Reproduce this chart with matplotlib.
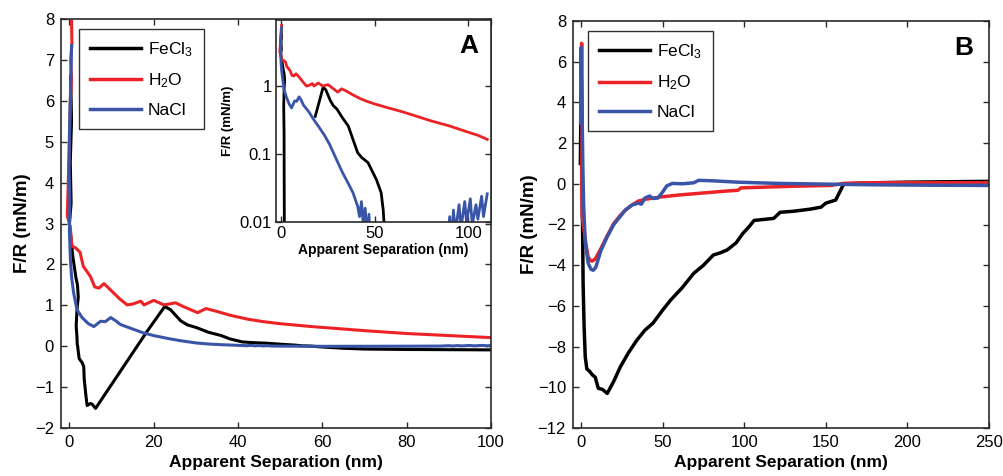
import matplotlib
matplotlib.use("Agg")
import matplotlib.pyplot as plt
import numpy as np

plt.rcParams['font.family'] = ['Liberation Sans', 'DejaVu Sans']
plt.rcParams['mathtext.fontset'] = 'custom'
plt.rcParams['mathtext.rm'] = 'Liberation Sans'
plt.rcParams['mathtext.it'] = 'Liberation Sans'
plt.rcParams['mathtext.bf'] = 'Liberation Sans:bold'
plt.rcParams['mathtext.default'] = 'regular'

# ---------------- Panel A data (approach) ----------------
h2o_a_x = [0.5, 0.6, 0.3, 0.5, 0.2, 0.0, -0.5, 0.2, 0.6, 1.5, 2.5, 3.3, 4.0, 5.0, 6.0, 7.0, 8.2, 9.0,
           10.0, 12.0, 13.7, 15.0, 16.9, 17.7, 20.0, 22.4, 25.2, 27.0, 30.4, 32.4, 35.0, 38.0, 42.3,
           46.0, 50.0, 57.4, 65.0, 70.0, 80.0, 90.0, 100.0, 105.0, 110.0]
h2o_a_y = [7.95, 7.4, 7.0, 6.5, 6.0, 5.0, 3.2, 2.9, 2.45, 2.4, 2.3, 1.95, 1.85, 1.7, 1.45, 1.42, 1.53, 1.45,
           1.35, 1.15, 1.01, 1.03, 1.1, 1.01, 1.12, 1.01, 1.06, 0.97, 0.82, 0.92, 0.85, 0.76, 0.66,
           0.6, 0.55, 0.48, 0.42, 0.38, 0.31, 0.26, 0.21, 0.19, 0.165]

nacl_a_x = [0.5, 0.4, 0.2, 0.0, -0.1, 0.1, 0.0, 0.24, 0.5, 1.0, 1.8, 3.0, 4.5, 5.8, 7.4, 8.5, 9.8, 11.0,
            12.1, 15.0, 17.7, 20.0, 23.3, 26.0, 30.0, 33.0, 36.0, 38.5, 41.0, 42.0, 43.0, 44.0, 45.0,
            46.0, 47.0, 48.0, 50.0, 55.0, 60.0, 70.0, 80.0, 88.0, 90.0, 91.0, 92.0, 93.0, 95.0, 96.0,
            98.0, 99.0, 101.0, 102.0, 104.0, 105.0, 107.0, 108.0, 110.0]
nacl_a_y = [7.35, 6.8, 6.0, 5.2, 4.4, 3.6, 2.8, 2.1, 1.7, 1.3, 0.89, 0.7, 0.55, 0.48, 0.61, 0.6, 0.7, 0.62,
            0.53, 0.42, 0.32, 0.26, 0.19, 0.14, 0.08, 0.053, 0.037, 0.027, 0.017, 0.012, 0.02, 0.009, 0.016,
            0.006, 0.013, 0.004, 0.002, 0.0, -0.003, -0.002, 0.0, 0.003, 0.012, 0.005, 0.015, 0.007, 0.018, 0.008,
            0.02, 0.01, 0.022, 0.009, 0.018, 0.011, 0.024, 0.012, 0.026]

fecl3_a_x = [0.3, 0.5, 0.2, 0.4, 0.0, 0.8, 1.5, 1.9, 2.1, 1.8, 1.6, 1.8, 1.85, 1.9, 1.95, 2.0, 2.3, 3.0,
             3.4, 3.5, 3.9, 4.2, 5.0, 5.4, 6.2, 18.4, 22.6, 24.0, 26.4, 28.0, 30.0, 33.0, 36.0, 38.0, 41.0,
             43.0, 46.5, 51.0, 53.5, 54.6, 55.0, 57.0, 60.0, 65.0, 70.0, 80.0, 90.0, 100.0, 110.0]
fecl3_a_y = [6.6, 5.5, 4.5, 3.5, 3.0, 2.2, 1.7, 1.5, 1.2, 0.9, 0.5, 0.2, 0.05, 0.02, 0.008, -0.05, -0.3, -0.4,
             -0.5, -0.8, -1.2, -1.45, -1.4, -1.42, -1.52, 0.36, 0.97, 0.89, 0.62, 0.52, 0.46, 0.34, 0.26, 0.18,
             0.105, 0.09, 0.075, 0.042, 0.027, 0.015, 0.01, 0.004, -0.02, -0.05, -0.07, -0.08, -0.085, -0.09, -0.09]

# ---------------- Panel B data (retraction) ----------------
h2o_b_x = [-0.3, 0.3, 0.6, 0.4, 0.6, 2.0, 3.0, 4.3, 5.5, 6.6, 8.6, 12.0, 16.0, 20.0, 24.0, 27.0, 31.0,
           35.0, 40.0, 48.5, 60.0, 75.0, 90.0, 96.0, 98.0, 110.0, 130.0, 153.0, 161.0, 177.0, 200.0, 225.0, 250.0]
h2o_b_y = [3.0, 6.9, 4.0, 0.0, -1.6, -2.4, -3.0, -3.6, -3.75, -3.8, -3.7, -3.2, -2.55, -1.95, -1.55, -1.3, -1.05,
           -0.85, -0.75, -0.65, -0.55, -0.45, -0.35, -0.32, -0.2, -0.17, -0.12, -0.08, 0.02, 0.05, 0.05, 0.05, 0.05]

nacl_b_x = [-0.3, 0.0, 0.5, 1.0, 1.5, 2.5, 4.3, 6.0, 7.4, 9.0, 12.0, 16.0, 20.0, 24.0, 27.0, 31.0, 35.0,
            37.0, 39.0, 42.0, 44.0, 47.0, 50.0, 52.5, 56.0, 62.0, 69.0, 72.0, 80.0, 96.0, 120.0, 153.0,
            180.0, 215.0, 250.0]
nacl_b_y = [3.0, 6.7, 4.0, 1.0, -1.0, -2.9, -3.9, -4.2, -4.25, -4.1, -3.3, -2.6, -2.0, -1.6, -1.3, -1.05, -0.95,
            -1.0, -0.7, -0.6, -0.72, -0.7, -0.4, -0.1, 0.02, 0.0, 0.05, 0.17, 0.15, 0.08, 0.02, -0.02,
            -0.05, -0.07, -0.08]

fecl3_b_x = [-0.5, 0.0, 0.3, 0.6, 1.2, 1.8, 2.5, 3.5, 5.0, 7.0, 8.6, 10.5, 13.0, 16.0, 20.0, 24.0, 29.0,
             34.0, 39.0, 44.0, 50.0, 55.0, 62.0, 69.0, 75.0, 81.0, 85.0, 89.5, 95.0, 99.0, 103.0, 106.0,
             112.0, 118.0, 122.0, 130.0, 140.0, 147.0, 150.0, 156.0, 161.0, 180.0, 200.0, 225.0, 250.0]
fecl3_b_y = [1.0, 4.5, 3.0, 0.0, -4.9, -7.0, -8.5, -9.1, -9.2, -9.4, -9.5, -10.05, -10.1, -10.3, -9.7, -9.0, -8.3,
             -7.7, -7.2, -6.85, -6.2, -5.7, -5.1, -4.4, -4.0, -3.5, -3.4, -3.25, -2.9, -2.45, -2.1, -1.8,
             -1.75, -1.7, -1.4, -1.35, -1.25, -1.15, -0.95, -0.8, 0.0, 0.05, 0.08, 0.1, 0.12]

labels = [r'FeCl$_3$', r'H$_2$O', 'NaCl']
colors = ['black', '#ec2227', '#3a55a8']

W, H = 1004, 476
fig = plt.figure(figsize=(W / 100, H / 100), dpi=100)


def box(l, t, r, b):
    return [l / W, 1 - b / H, (r - l) / W, (b - t) / H]


spine_col = '#2a2a2a'


def style(ax, fs=12):
    ax.tick_params(direction='in', top=True, right=True, length=4, width=1,
                   labelsize=fs, color=spine_col, pad=5)
    for s in ax.spines.values():
        s.set_color(spine_col)
        s.set_linewidth(1.2)


def legend(ax, anchor):
    leg = ax.legend(loc='upper left', bbox_to_anchor=anchor, borderaxespad=0, fontsize=12.5,
                    frameon=True, fancybox=False, edgecolor='black', handlelength=2.9, labelspacing=0.72,
                    borderpad=0.65, handletextpad=0.4)
    leg.get_frame().set_linewidth(1.0)
    for line in leg.get_lines():
        line.set_linewidth(2.5)
    return leg


# ---------------- Panel A ----------------
axA = fig.add_axes(box(61, 19, 491, 428))
for xs, ys, c, lab in zip([fecl3_a_x, h2o_a_x, nacl_a_x], [fecl3_a_y, h2o_a_y, nacl_a_y], colors, labels):
    axA.plot(xs, ys, color=c, lw=2.2, label=lab)
axA.set_xlim(-2, 100)
axA.set_ylim(-2, 8)
axA.set_xticks(np.arange(0, 101, 20))
axA.set_yticks(np.arange(-2, 9, 1))
style(axA)
axA.set_xlabel('Apparent Separation (nm)', fontsize=12.5, fontweight='bold', labelpad=4)
axA.set_ylabel('F/R (mN/m)', fontsize=13.5, fontweight='bold', labelpad=3)
legend(axA, (0.042, 0.976))

# inset
axI = fig.add_axes(box(276, 20, 491, 222))
for xs, ys, c in zip([fecl3_a_x, h2o_a_x, nacl_a_x], [fecl3_a_y, h2o_a_y, nacl_a_y], colors):
    axI.plot(xs, ys, color=c, lw=2.0)
axI.set_yscale('log', nonpositive='mask')
axI.set_xlim(-2.5, 112)
axI.set_ylim(0.01, 9.5)
axI.set_xticks([0, 50, 100])
axI.set_yticks([0.01, 0.1, 1])
axI.set_yticklabels(['0.01', '0.1', '1'])
axI.yaxis.set_minor_locator(matplotlib.ticker.NullLocator())
style(axI, fs=12)
axI.tick_params(pad=3)
axI.set_xlabel('Apparent Separation (nm)', fontsize=10, fontweight='bold', labelpad=1)
axI.set_ylabel('F/R (mN/m)', fontsize=9.5, fontweight='bold', labelpad=4)
fig.text(469 / W, 1 - 46 / H, 'A', fontsize=19, fontweight='bold', ha='center', va='center')

# ---------------- Panel B ----------------
axB = fig.add_axes(box(573, 21, 989, 428))
for xs, ys, c, lab in zip([fecl3_b_x, h2o_b_x, nacl_b_x], [fecl3_b_y, h2o_b_y, nacl_b_y], colors, labels):
    axB.plot(xs, ys, color=c, lw=2.5, label=lab)
axB.set_xlim(-5, 250)
axB.set_ylim(-12, 8)
axB.set_xticks(np.arange(0, 251, 50))
axB.set_yticks(np.arange(-12, 9, 2))
style(axB)
axB.set_xlabel('Apparent Separation (nm)', fontsize=12.5, fontweight='bold', labelpad=4)
axB.set_ylabel('F/R (mN/m)', fontsize=13.5, fontweight='bold', labelpad=0)
legend(axB, (0.036, 0.975))
fig.text(964 / W, 1 - 48 / H, 'B', fontsize=19, fontweight='bold', ha='center', va='center')

fig.savefig('out.png', dpi=100)
